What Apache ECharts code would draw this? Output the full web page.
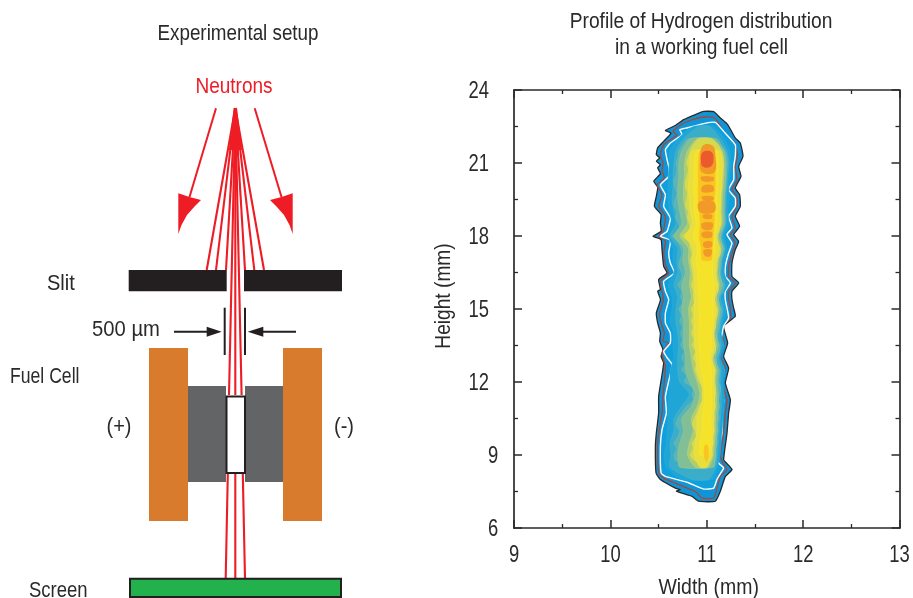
<!DOCTYPE html>
<html><head><meta charset="utf-8">
<style>html,body{margin:0;padding:0;background:#fff}#c{width:913px;height:598px}</style>
<script src="https://cdn.jsdelivr.net/npm/echarts@6/dist/echarts.min.js"></script>
</head><body><div id="c"></div>
<script>
const FONT = '"Liberation Sans",sans-serif';
const INK = '#2b2a2b', RED = '#ee1c25';

// ---- tick labels ----
const xTickLabels = [9,10,11,12,13];
const yTickLabels = [6,9,12,15,18,21,24];

// ---- contour outlines: [width mm, height mm] ----
const outerContour = [[11.072,23.11],[10.968,23.12],[10.882,22.99],[10.761,22.78],[10.674,22.54],[10.571,22.34],[10.629,22.23],[10.553,21.89],[10.491,21.62],[10.477,21.34],[10.512,21.21],[10.477,21.07],[10.519,20.93],[10.491,20.80],[10.519,20.56],[10.450,20.25],[10.491,20.01],[10.477,19.63],[10.457,19.22],[10.526,18.88],[10.519,18.54],[10.526,18.19],[10.443,17.99],[10.526,17.85],[10.536,17.44],[10.553,16.75],[10.588,16.48],[10.501,16.21],[10.519,15.80],[10.491,15.73],[10.52,15.38],[10.477,14.84],[10.491,14.42],[10.519,14.01],[10.512,13.67],[10.546,13.33],[10.526,13.05],[10.553,12.78],[10.501,11.41],[10.501,10.73],[10.477,9.90],[10.467,9.36],[10.474,8.26],[10.519,7.99],[10.674,7.64],[10.726,7.58],[10.685,7.51],[10.847,7.30],[10.916,7.10],[11.089,7.10],[11.141,7.51],[11.193,8.12],[11.262,8.40],[11.203,8.67],[11.175,8.81],[11.210,9.90],[11.227,10.73],[11.245,11.27],[11.193,11.96],[11.227,12.57],[11.175,13.05],[11.217,13.60],[11.175,14.29],[11.296,14.70],[11.279,15.04],[11.262,15.38],[11.262,15.73],[11.331,16.07],[11.262,16.34],[11.262,16.89],[11.296,17.44],[11.331,17.78],[11.279,18.06],[11.341,18.40],[11.296,18.81],[11.348,19.22],[11.341,19.70],[11.296,19.97],[11.355,20.45],[11.331,20.86],[11.376,21.28],[11.348,21.82],[11.296,22.03],[11.217,22.58],[11.141,22.85]];
const redContour = [[11.07,22.88],[10.97,22.89],[10.85,22.78],[10.73,22.57],[10.65,22.3],[10.69,22.15],[10.553,21.75],[10.519,21.34],[10.546,21.0],[10.536,20.66],[10.56,20.38],[10.484,20.1],[10.536,19.7],[10.502,19.22],[10.571,18.8],[10.547,18.19],[10.502,18.0],[10.571,17.78],[10.553,17.3],[10.571,16.82],[10.605,16.48],[10.519,16.14],[10.536,15.73],[10.55,15.38],[10.512,14.84],[10.526,14.42],[10.56,14.01],[10.546,13.67],[10.605,13.6],[10.536,13.19],[10.571,12.64],[10.546,11.41],[10.536,10.73],[10.502,9.9],[10.49,9.36],[10.502,8.26],[10.553,8.05],[10.709,7.78],[10.882,7.5],[10.95,7.23],[11.072,7.23],[11.106,7.64],[11.141,8.12],[11.21,8.4],[11.168,8.67],[11.141,8.95],[11.175,9.9],[11.193,10.73],[11.21,11.27],[11.158,11.96],[11.193,12.57],[11.141,13.05],[11.182,13.6],[11.141,14.22],[11.245,14.63],[11.245,15.04],[11.227,15.38],[11.227,15.73],[11.296,16.07],[11.227,16.34],[11.227,16.75],[11.262,17.3],[11.296,17.71],[11.245,18.06],[11.296,18.33],[11.262,18.81],[11.314,19.22],[11.314,19.63],[11.262,19.9],[11.314,20.32],[11.296,20.86],[11.32,21.34],[11.279,21.89],[11.175,22.23],[11.13,22.6]];
const whiteContour = [[11.09,22.67],[10.968,22.62],[10.8,22.45],[10.72,22.37],[10.743,22.17],[10.622,21.82],[10.571,21.55],[10.588,21.14],[10.605,20.86],[10.605,20.45],[10.519,20.1],[10.571,19.7],[10.553,19.22],[10.622,18.74],[10.588,18.19],[10.519,17.99],[10.622,17.82],[10.605,17.3],[10.622,16.89],[10.664,16.48],[10.553,16.14],[10.571,15.73],[10.605,15.38],[10.571,14.84],[10.571,14.42],[10.622,14.01],[10.622,13.6],[10.553,13.26],[10.588,13.0],[10.64,12.71],[10.571,11.41],[10.581,10.73],[10.536,10.04],[10.519,9.36],[10.526,8.26],[10.571,8.12],[10.795,7.88],[10.968,7.6],[11.072,7.64],[11.106,8.0],[11.158,8.34],[11.175,8.47],[11.124,8.67],[11.106,8.95],[11.158,9.9],[11.158,10.73],[11.175,11.27],[11.124,11.96],[11.158,12.57],[11.106,13.05],[11.141,13.6],[11.175,14.29],[11.227,14.63],[11.21,15.04],[11.193,15.38],[11.193,15.73],[11.245,16.07],[11.193,16.34],[11.193,16.75],[11.227,17.3],[11.262,17.71],[11.21,18.06],[11.262,18.33],[11.227,18.81],[11.296,19.22],[11.296,19.56],[11.227,19.9],[11.28,20.32],[11.28,20.86],[11.296,21.28],[11.296,21.75],[11.175,22.3]];

// ---- inner filled levels: left and right edge (mm) per height row ----
const rowsA = [8,8.5,9,9.5,10,10.5,11,11.5,12,12.5,13,13.5,14,14.5,15,15.5,16,16.5,17,17.5,18,18.5,19,19.5,20,20.5,21,21.5,22,22.5];
const levelALeft  = [10.75,10.58,10.56,10.58,10.59,10.60,10.60,10.61,10.62,10.62,10.66,10.65,10.66,10.62,10.64,10.64,10.60,10.66,10.65,10.65,10.60,10.64,10.61,10.60,10.60,10.60,10.61,10.62,10.70,10.86];
const levelARight = [11.06,11.11,11.14,11.15,11.16,11.17,11.18,11.18,11.17,11.19,11.14,11.18,11.15,11.17,11.20,11.16,11.22,11.18,11.19,11.21,11.18,11.23,11.22,11.23,11.23,11.24,11.25,11.24,11.18,11.06];
const levelBLeft  = [10.85,10.62,10.63,10.62,10.66,10.66,10.74,10.82,10.72,10.70,10.70,10.71,10.70,10.68,10.68,10.70,10.66,10.70,10.69,10.70,10.62,10.68,10.66,10.64,10.65,10.65,10.66,10.68,10.76,10.92];
const levelBRight = [11.02,11.09,11.11,11.12,11.13,11.14,11.15,11.15,11.14,11.15,11.12,11.15,11.13,11.15,11.17,11.14,11.19,11.15,11.16,11.19,11.16,11.20,11.20,11.20,11.21,11.22,11.23,11.21,11.14,11.03];
const rowsC = [8.5,9,9.5,10,10.5,11,11.5,12,12.5,13,13.5,14,14.5,15,15.5,16,16.5,17,17.5,18,18.5,19,19.5,20,20.5,21,21.5,22];
const levelCLeft  = [10.72,10.70,10.72,10.76,10.74,10.84,10.88,10.82,10.78,10.78,10.76,10.76,10.76,10.74,10.76,10.74,10.78,10.75,10.76,10.66,10.74,10.72,10.70,10.70,10.71,10.71,10.74,10.83];
const levelCRight = [11.07,11.09,11.10,11.11,11.11,11.12,11.12,11.11,11.12,11.09,11.12,11.10,11.12,11.14,11.12,11.16,11.13,11.14,11.17,11.14,11.18,11.18,11.18,11.19,11.20,11.20,11.18,11.08];
const levelDLeft  = [10.88,10.80,10.82,10.86,10.84,10.90,10.93,10.90,10.86,10.84,10.82,10.82,10.82,10.81,10.84,10.82,10.83,10.81,10.81,10.72,10.80,10.78,10.76,10.76,10.77,10.77,10.80,10.90];
const levelDRight = [11.02,11.07,11.08,11.09,11.09,11.10,11.10,11.09,11.10,11.07,11.10,11.08,11.10,11.12,11.10,11.13,11.11,11.12,11.15,11.12,11.16,11.16,11.16,11.17,11.18,11.18,11.16,11.04];
const rowsFine = [8.75,9,9.25,9.5,9.75,10,10.25,10.5,10.75,11,11.25,11.5,11.75,12,12.25,12.5,12.75,13,13.25,13.5,13.75,14,14.25,14.5,14.75,15,15.25,15.5,15.75,16,16.25,16.5,16.75,17,17.25,17.5,17.75,18,18.25,18.5,18.75,19,19.25,19.5,19.75,20,20.25,20.5,20.75,21,21.25,21.5,21.75,22];
const levelBCLeft = [10.68,10.66,10.69,10.66,10.70,10.72,10.68,10.70,10.74,10.79,10.86,10.85,10.87,10.77,10.79,10.74,10.77,10.74,10.77,10.73,10.75,10.73,10.75,10.72,10.74,10.71,10.75,10.73,10.74,10.70,10.74,10.74,10.71,10.72,10.74,10.73,10.70,10.64,10.72,10.71,10.68,10.69,10.66,10.67,10.69,10.67,10.66,10.68,10.69,10.68,10.70,10.71,10.75,10.80];
const levelBCRight = [11.08,11.10,11.09,11.11,11.10,11.12,11.11,11.13,11.12,11.135,11.12,11.135,11.145,11.125,11.13,11.135,11.10,11.105,11.13,11.135,11.11,11.115,11.13,11.135,11.15,11.155,11.12,11.13,11.17,11.175,11.14,11.14,11.15,11.15,11.17,11.18,11.15,11.15,11.17,11.19,11.19,11.18,11.19,11.19,11.19,11.20,11.20,11.205,11.21,11.215,11.21,11.19,11.15,11.11];
const levelDELeft = [10.88,10.83,10.86,10.85,10.89,10.88,10.85,10.87,10.90,10.92,10.96,10.95,10.97,10.92,10.90,10.88,10.89,10.86,10.89,10.85,10.87,10.84,10.86,10.84,10.86,10.84,10.87,10.86,10.86,10.84,10.86,10.85,10.84,10.83,10.85,10.83,10.82,10.75,10.83,10.82,10.80,10.81,10.78,10.79,10.80,10.78,10.78,10.80,10.81,10.79,10.81,10.83,10.86,10.92];
const levelDERight = [11.03,11.06,11.05,11.07,11.06,11.08,11.07,11.08,11.07,11.09,11.08,11.09,11.09,11.08,11.08,11.09,11.06,11.06,11.09,11.09,11.07,11.07,11.09,11.09,11.11,11.11,11.08,11.09,11.12,11.12,11.10,11.10,11.11,11.11,11.14,11.14,11.11,11.11,11.13,11.15,11.15,11.14,11.15,11.15,11.15,11.16,11.16,11.165,11.17,11.175,11.17,11.15,11.12,11.05];
const rowsE = rowsC.slice(0,27);
const levelELeft  = [10.93,10.87,10.88,10.90,10.90,10.94,10.96,10.94,10.90,10.89,10.88,10.87,10.87,10.87,10.88,10.87,10.87,10.85,10.86,10.78,10.85,10.83,10.82,10.81,10.82,10.82,10.85];
const levelERight = [11.00,11.05,11.06,11.07,11.07,11.08,11.08,11.07,11.08,11.05,11.08,11.07,11.08,11.10,11.08,11.11,11.09,11.10,11.13,11.10,11.14,11.14,11.14,11.15,11.16,11.16,11.13];
const rowsF = rowsC.slice(1,27);
const levelFLeft  = [10.93,10.93,10.95,10.95,10.97,10.98,10.97,10.94,10.93,10.92,10.92,10.92,10.92,10.92,10.91,10.91,10.89,10.90,10.86,10.89,10.87,10.87,10.86,10.87,10.87,10.90];
const levelFRight = [11.02,11.04,11.05,11.04,11.05,11.05,11.05,11.05,11.03,11.05,11.05,11.06,11.07,11.06,11.08,11.06,11.07,11.09,11.08,11.11,11.11,11.11,11.12,11.12,11.12,11.10];
const rowsG = [17,17.5,18,18.5,19,19.5,20,20.5,21,21.5];
const levelGLeft  = [10.95,10.94,10.92,10.93,10.92,10.91,10.91,10.91,10.91,10.93];
const levelGRight = [11.05,11.06,11.07,11.08,11.08,11.08,11.09,11.09,11.09,11.07];
const hotBlobs = [
  [[10.96,21.72],[11.06,21.72],[11.09,21.3],[11.08,20.62],[10.95,20.62],[10.93,21.1]],
  [[10.94,20.44],[11.07,20.42],[11.07,20.27],[10.96,20.25]],
  [[10.96,20.06],[11.06,20.08],[11.07,19.84],[10.95,19.82]],
  [[10.95,19.62],[11.06,19.63],[11.07,19.48],[10.97,19.46]],
  [[10.92,19.40],[11.07,19.42],[11.08,19.0],[10.93,18.98]],
  [[10.96,18.87],[11.05,18.88],[11.05,18.72],[10.97,18.72]],
  [[10.95,18.52],[11.06,18.53],[11.05,18.28],[10.96,18.28]],
  [[10.95,18.14],[11.05,18.16],[11.05,17.95],[10.96,17.94]],
  [[10.97,17.75],[11.05,17.77],[11.05,17.55],[10.97,17.54]],
  [[10.97,17.42],[11.05,17.43],[11.04,17.18],[10.98,17.18]]
];
const redBlob = [[10.96,21.45],[11.05,21.45],[11.07,21.1],[11.04,20.85],[10.96,20.85],[10.94,21.1]];
const yellowBlob = [[10.98,9.4],[11.01,9.4],[11.02,9.0],[11.0,8.7],[10.97,9.0]];
const contourColors = ['#0f95d6','#10a0dc','#1fa6d6','#3aadc8','#5cb5b2','#82bf95','#aecd6c','#d6d94c','#f5e32a','#f9c520','#f29a27','#ea5a2c'];

// ---- schematic, in diagram units ----
const diagramFills = [
  {box:[149,348,188,521], fill:'#d97b2d'}, {box:[283,348,322,521], fill:'#d97b2d'},
  {box:[188,386,226,482], fill:'#636466'}, {box:[245,386,283,482], fill:'#636466'},
  {box:[128.7,270,226.7,291.3], fill:'#231f20'}, {box:[244,270,342,291.3], fill:'#231f20'}
];
const diagramFramed = [
  {box:[226.5,396.5,245,473], fill:'#ffffff'}, {box:[130,578.8,341,597], fill:'#22b14c'}
];
const beamRays = [
  [235.3,108,206.7,270],[235.3,108,216,270],[235.3,108,226,270],
  [235.3,108,245,270],[235.3,108,254.3,270],[235.3,108,264,270],
  [235.3,108,229,395],[235.3,108,235.3,395],[235.3,108,241.6,395],
  [227.8,474,225.7,578],[235.3,474,235.3,578],[242.8,474,245,578]
];
const apexWedge = [[233.6,108],[237,108],[242,150],[229,150]];
const arrowShafts = [[216,108.3,189.5,197],[254.7,108.3,281.5,197]];
const arrowHeads = [
  [[178.3,234],[178.3,193.3],[189.5,197],[201,200],[195,206],[187,215],[181.5,225]],
  [[292.7,234],[292.7,193.3],[281.5,197],[270,200],[276,206],[284,215],[289.5,225]]
];
const gapMarkers = [[224.7,307.7,224.7,355],[245,307.7,245,355],[174,331.7,210,331.7],[296,331.7,260,331.7]];
const gapHeads = [[[221.7,331.7],[206.7,326.7],[206.7,336.7]],[[247.7,331.7],[263.3,326.7],[263.3,336.7]]];
const diagramTexts = [
  {t:'Neutrons', x:234, y:86, c:RED, a:'center', sx:.865},
  {t:'Slit', x:47, y:283, c:INK, a:'left', sx:.91},
  {t:'500 µm', x:92, y:329, c:INK, a:'left', sx:.92},
  {t:'Fuel Cell', x:10, y:376, c:INK, a:'left', sx:.80},
  {t:'(+)', x:119, y:426, c:INK, a:'center', sx:.91},
  {t:'(-)', x:344, y:426, c:INK, a:'center', sx:.91},
  {t:'Screen', x:29, y:590, c:INK, a:'left', sx:.84}
];

function ring(rows, left, right){
  const out = left.map((v,i)=>[v,rows[i]]);
  for(let i=rows.length-1;i>=0;i--) out.push([right[i],rows[i]]);
  return out;
}
function contour(pts, fill, stroke, lw, smooth){
  return {type:'custom', xAxisIndex:0, yAxisIndex:0, silent:true, animation:false,
    data:pts, encode:{x:0,y:1},
    renderItem(p, api){
      if(p.dataIndex!==0) return;
      return {type:'polygon', shape:{points:pts.map(q=>api.coord(q)), smooth:smooth||0},
        style:{fill:fill, stroke:stroke, lineWidth:lw, lineJoin:'round'}};
    }};
}
function diagram(items, draw){
  return {type:'custom', xAxisIndex:2, yAxisIndex:2, silent:true, animation:false, clip:false,
    data:items.map((_,i)=>[i]), encode:{x:-1,y:-1},
    renderItem(p, api){ return draw(items[p.dataIndex], api); }};
}
function narrow(text,x,y,sx,color,align,size,rotation){
  return {type:'text',x:x,y:y+1,scaleX:sx,rotation:rotation||0,silent:true,
    style:{text:text,x:0,y:0,fill:color,align:align,verticalAlign:'middle',font:(size||22)+'px '+FONT}};
}
const boxShape = (b,api)=>{const a=api.coord([b[0],b[1]]),c=api.coord([b[2],b[3]]);return {x:a[0],y:a[1],width:c[0]-a[0],height:c[1]-a[1]};};
const seg = (s,api,w,col)=>{const a=api.coord([s[0],s[1]]),c=api.coord([s[2],s[3]]);
  return {type:'line',shape:{x1:a[0],y1:a[1],x2:c[0],y2:c[1]},style:{stroke:col,lineWidth:w}};};
const poly = (pts,api,col)=>({type:'polygon',shape:{points:pts.map(q=>api.coord(q))},style:{fill:col}});

const S = 0.2, L = 0.5;
const profile = [
  contour(outerContour, contourColors[0], '#2a2a2c', 1.3, .15),
  contour(redContour, contourColors[0], '#a5473a', 1.3, .15),
  contour(whiteContour, contourColors[1], '#ffffff', 1.4, .15),
  contour(ring(rowsA,levelALeft,levelARight), contourColors[2], '#2eaad8', L, S),
  contour(ring(rowsA,levelBLeft,levelBRight), contourColors[3], '#52b5cc', L, S),
  contour(ring(rowsFine,levelBCLeft,levelBCRight), contourColors[4], '#74bfb4', L, S),
  contour(ring(rowsC,levelCLeft,levelCRight), contourColors[5], '#98c99a', L, S),
  contour(ring(rowsC,levelDLeft,levelDRight), contourColors[6], '#c0d478', L, S),
  contour(ring(rowsFine,levelDELeft,levelDERight), contourColors[7], '#e2de5c', L, S),
  contour(ring(rowsE,levelELeft,levelERight), '#eadf3a', '#f2e44c', L, S),
  contour(ring(rowsF,levelFLeft,levelFRight), contourColors[8], '#f8e740', L, S),
  contour(ring(rowsG,levelGLeft,levelGRight), contourColors[9], '#f9d030', L, S),
  contour(yellowBlob, contourColors[9], 'none', 0, 0.4),
  ...hotBlobs.map(b=>contour(b, contourColors[10], 'none', 0, 0.4)),
  contour(redBlob, contourColors[11], 'none', 0, 0.4)
];
const schematic = [
  diagram(diagramFills,(d,api)=>({type:'rect',shape:boxShape(d.box,api),style:{fill:d.fill}})),
  diagram(beamRays,(r,api)=>seg(r,api,2.1,RED)),
  diagram([apexWedge],(h,api)=>poly(h,api,RED)),
  diagram(arrowShafts,(r,api)=>seg(r,api,2,RED)),
  diagram(arrowHeads,(h,api)=>poly(h,api,RED)),
  diagram(gapMarkers,(r,api)=>seg(r,api,2,'#231f20')),
  diagram(gapHeads,(h,api)=>poly(h,api,'#231f20')),
  diagram(diagramFramed,(d,api)=>({type:'rect',shape:boxShape(d.box,api),style:{fill:d.fill,stroke:'#231f20',lineWidth:2}})),
  diagram(diagramTexts,(d,api)=>{const a=api.coord([d.x,d.y]);return narrow(d.t,a[0],a[1],d.sx,d.c,d.a);})
];
const tickText = [
  {type:'custom',xAxisIndex:0,yAxisIndex:0,silent:true,animation:false,clip:false,
    data:xTickLabels.map(v=>[v,6]),encode:{x:0,y:1},
    renderItem(p,api){const a=api.coord([api.value(0),api.value(1)]);
      return narrow(String(api.value(0)),a[0],a[1]+27,.8,INK,'center',23);}},
  {type:'custom',xAxisIndex:0,yAxisIndex:0,silent:true,animation:false,clip:false,
    data:yTickLabels.map(v=>[9,v]),encode:{x:0,y:1},
    renderItem(p,api){const v=api.value(1),a=api.coord([9,v]);
      return v<10?narrow(String(v),493,a[1]+1,.8,INK,'center',23)
                 :narrow(String(v),489,a[1]+1,.8,INK,'right',23);}}
];
const line = {lineStyle:{color:INK,width:1.7}};
const ticks = {show:true,inside:true,length:8,lineStyle:{color:INK,width:1.5}};
const minor = {show:true,splitNumber:2,length:4,lineStyle:{color:INK,width:1.3}};
const base = {type:'value',axisLine:{show:true,onZero:false,...line},axisTick:ticks,minorTick:minor,splitLine:{show:false},axisLabel:{show:false}};
const chart = echarts.init(document.getElementById('c'),null,{renderer:'canvas'});
chart.setOption({
  animation:false, backgroundColor:'#fff',
  graphic:[
    narrow('Experimental setup',238,33,.855,INK,'center'),
    narrow('Profile of Hydrogen distribution',701,21,.873,INK,'center'),
    narrow('in a working fuel cell',701.5,47,.873,INK,'center'),
    narrow('Width (mm)',708.7,587,.885,INK,'center'),
    narrow('Height (mm)',444,295,.87,INK,'center',22,Math.PI/2)
  ],
  grid:[
    {left:514,top:90,width:385.5,height:438,outerBoundsMode:'none'},
    {left:0,top:0,width:430,height:598,outerBoundsMode:'none'}
  ],
  xAxis:[
    {...base,gridIndex:0,position:'bottom',min:9,max:13,interval:1},
    {...base,gridIndex:0,position:'top',min:9,max:13,interval:1},
    {type:'value',gridIndex:1,min:0,max:430,show:false}
  ],
  yAxis:[
    {...base,gridIndex:0,position:'left',min:6,max:24,interval:3},
    {...base,gridIndex:0,position:'right',min:6,max:24,interval:3},
    {type:'value',gridIndex:1,min:0,max:598,inverse:true,show:false}
  ],
  series:[...schematic,...profile,...tickText]
});
</script></body></html>
